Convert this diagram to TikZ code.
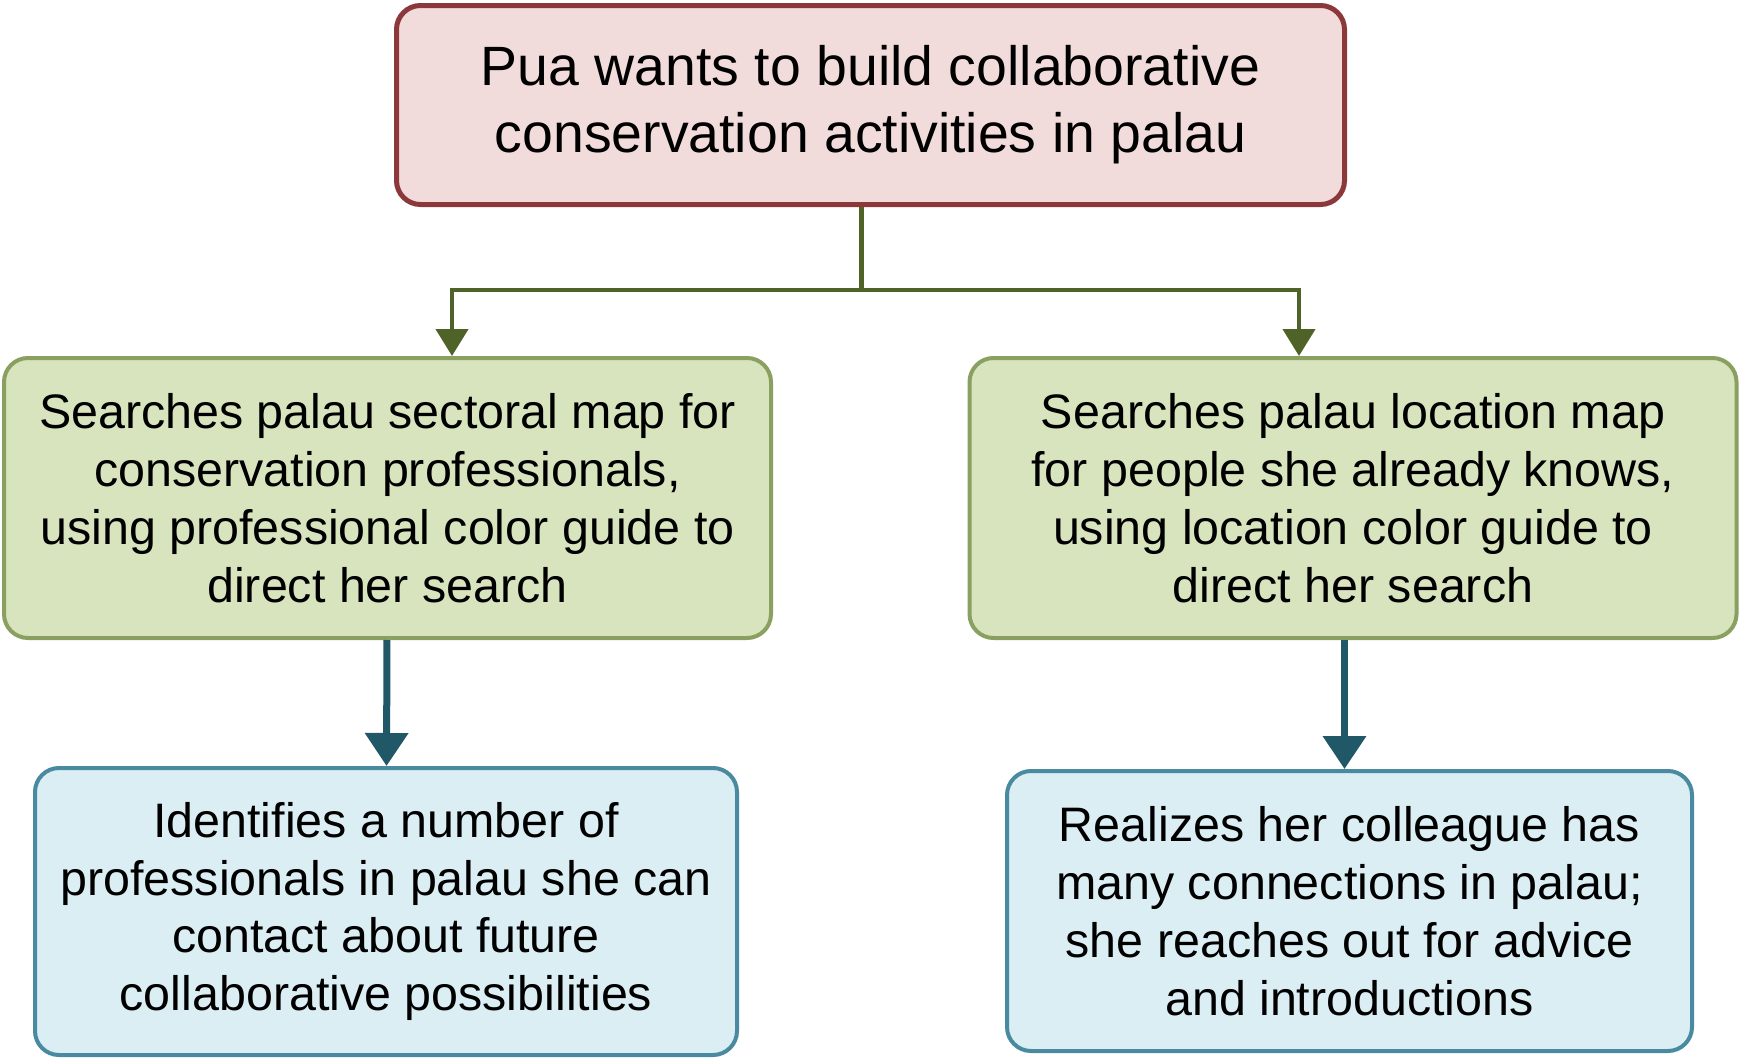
\documentclass[tikz,border=0pt]{standalone}
\usepackage{fontspec}
\setmainfont{Liberation Sans}
\usepackage{tikz}
\usetikzlibrary{arrows.meta, positioning}
\definecolor{goalred}{RGB}{140,56,58}
\definecolor{goalpink}{RGB}{242,220,219}
\definecolor{searchgreen}{RGB}{138,160,96}
\definecolor{searchfill}{RGB}{216,228,189}
\definecolor{forkgreen}{RGB}{79,98,40}
\definecolor{resultblue}{RGB}{74,138,160}
\definecolor{resultfill}{RGB}{219,238,244}
\definecolor{resultarrow}{RGB}{33,88,104}

\begin{document}
\begin{tikzpicture}[
  goal/.style={
    rectangle, rounded corners=12pt,
    minimum width=474pt, minimum height=99.5pt,
    align=center, fill=goalpink, draw=goalred, line width=2.5pt,
    font=\fontsize{27.7}{33.6}\selectfont
  },
  search/.style={
    rectangle, rounded corners=12pt,
    minimum width=383.5pt, minimum height=140pt,
    align=center, fill=searchfill, draw=searchgreen, line width=2pt,
    font=\fontsize{24.2}{28.9}\selectfont
  },
  result/.style={
    rectangle, rounded corners=12pt,
    minimum height=142pt,
    align=center, fill=resultfill, draw=resultblue, line width=2pt,
    font=\fontsize{24.2}{28.9}\selectfont
  },
  trunk/.style={line width=2.2pt, color=forkgreen},
  fork/.style={-{Triangle[length=13.5pt, width=16pt]}, line width=2.2pt, color=forkgreen},
  down/.style={-{Triangle[length=16.5pt, width=21pt]}, line width=3.5pt, color=resultarrow}
]
  \useasboundingbox (0,0) rectangle (870.5pt,-530pt);

  \node[goal] (pua) at (435.25pt,-52.5pt) {Pua wants to build collaborative\\conservation activities in palau};

  \node[search] (sectoral) at (193.75pt,-249pt) {Searches palau sectoral map for\\conservation professionals,\\using professional color guide to\\direct her search};
  \node[search] (location) at (676.5pt,-249pt) {Searches palau location map\\for people she already knows,\\using location color guide to\\direct her search};

  \node[result, minimum width=351pt, minimum height=143.5pt] (identify) at (193pt,-455.75pt) {Identifies a number of\\professionals in palau she can\\contact about future\\collaborative possibilities};
  \node[result, minimum width=342.5pt, minimum height=140pt] (realize) at (674.75pt,-455.5pt) {Realizes her colleague has\\many connections in palau;\\she reaches out for advice\\and introductions};

  \coordinate[below=41.5pt of pua.south, xshift=-4.5pt] (split);
  \draw[trunk] (pua.south -| split) -- (split);
  \draw[fork] (split) -| ([xshift=32.25pt]sectoral.north);
  \draw[fork] (split) -| ([xshift=-27pt]location.north);

  \draw[down] (sectoral) -- (identify);
  \draw[down] ([xshift=-2.5pt]location.south -| realize.north) -- ([xshift=-2.5pt]realize.north);
\end{tikzpicture}
\end{document}
